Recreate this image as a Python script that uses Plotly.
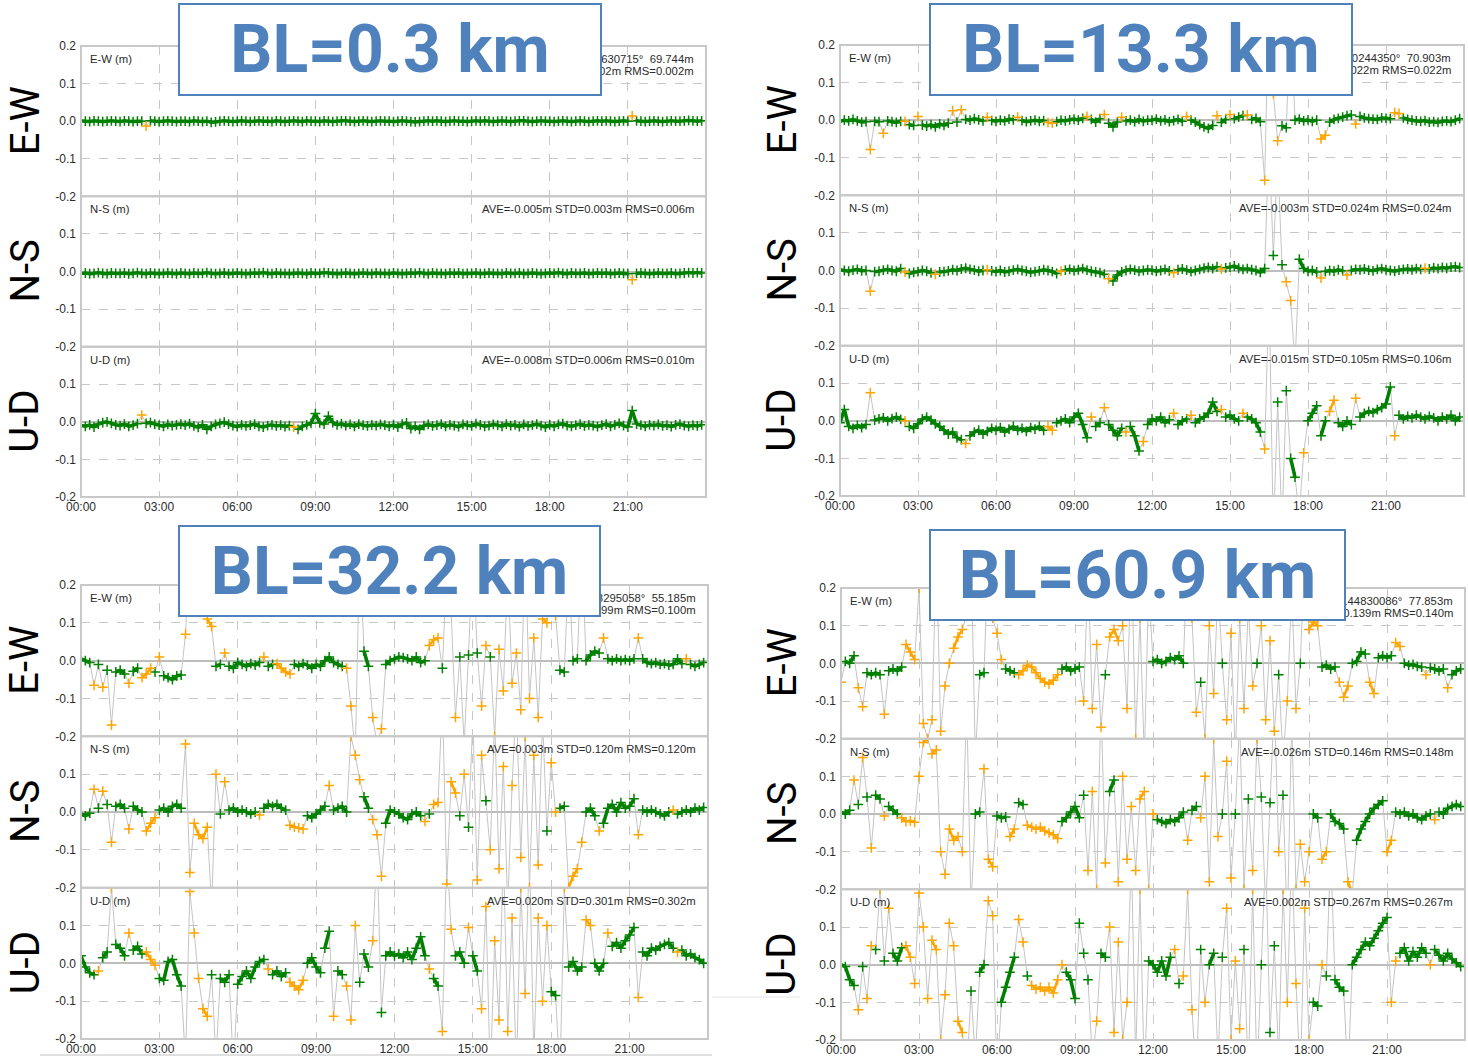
import plotly.graph_objects as go

# ---------------------------------------------------------------------------
# RTK baseline solutions, one epoch every 10 minutes over 24 h.
# Values are in millimetres, six rows of 24 epochs (4 hours per row).
# *_FLOAT lists, per row, the epoch indices that are float solutions.
# ---------------------------------------------------------------------------
STEP_MIN = 10
ROW_LEN = 24

TIME_TICKS = [0, 3, 6, 9, 12, 15, 18, 21]
TIME_LABELS = ["00:00", "03:00", "06:00", "09:00", "12:00", "15:00", "18:00", "21:00"]
Y_TICKS = [-0.2, -0.1, 0.0, 0.1, 0.2]
Y_LABELS = ["-0.2", "-0.1", "0.0", "0.1", "0.2"]
COMPONENTS = ["E-W", "N-S", "U-D"]
BASELINES = ["BL=0.3 km", "BL=13.3 km", "BL=32.2 km", "BL=60.9 km"]

# ---- BL = 0.3 km ----
BL03_EW = [
    [1, 0, -1, 1, 0, -1, 0, 1, 0, -1, 1, 0, -1, 0, 0, -13, 1, 0, -1, 0, 1, 0, -1, 0],
    [0, -1, 1, 0, -1, 0, -3, -2, 0, 1, 0, -1, 0, 1, 0, -1, 0, 1, 0, 0, -1, 1, 0, -1],
    [0, 1, 0, -1, 1, 0, 0, -1, 1, 0, -1, 0, 1, 1, 0, -1, 0, 1, 0, -1, 0, 1, 0, 0],
    [-1, 0, 1, 0, -1, -2, -1, 0, 1, 0, 1, 0, -1, 0, 1, 0, 0, -1, 0, 1, 0, 1, 0, -1],
    [0, 1, 0, -1, 0, 1, 1, 0, -1, 0, 1, 0, 0, -1, 0, 1, 0, -1, 0, 1, 0, -1, 0, 1],
    [0, 1, 0, -1, 0, 1, 0, 14, 1, 0, -1, 0, 1, 0, -1, 0, 1, 0, 0, 1, 2, 1, 0, 1],
]
BL03_EW_FLOAT = [[15], [], [], [], [], [7]]
BL03_NS = [
    [-5, -4, -6, -5, -3, -5, -6, -4, -5, -5, -4, -6, -5, -3, -5, -6, -4, -5, -6, -5, -4, -5, -6, -4],
    [-5, -6, -4, -5, -5, -3, -5, -6, -5, -4, -6, -5, -4, -5, -6, -5, -4, -5, -3, -5, -6, -4, -5, -5],
    [-6, -5, -4, -5, -6, -4, -5, -5, -3, -4, -5, -6, -5, -4, -5, -6, -5, -4, -5, -6, -4, -5, -5, -6],
    [-4, -5, -6, -5, -4, -5, -3, -5, -6, -4, -5, -5, -6, -4, -5, -4, -6, -5, -5, -4, -6, -5, -4, -5],
    [-5, -6, -4, -5, -5, -4, -6, -5, -4, -5, -6, -5, -4, -5, -3, -5, -6, -4, -5, -5, -4, -6, -5, -4],
    [-5, -4, -6, -5, -4, -5, -6, -22, -5, -4, -5, -6, -5, -4, -5, -5, -4, -6, -5, -4, -3, -4, -3, -4],
]
BL03_NS_FLOAT = [[], [], [], [], [], [7]]
BL03_UD = [
    [-10, -12, -8, -14, -6, -2, 0, -4, -8, -10, -6, -12, -9, -5, 18, -4, -2, -6, -9, -12, -7, -10, -8, -6],
    [-9, -5, -11, -15, -8, -20, -12, -7, -4, -1, -6, -10, -13, -8, -11, -9, -6, -12, -14, -10, -8, -11, -9, -13],
    [-10, -14, -20, -12, -8, -4, 22, -3, -6, 15, -2, -8, -5, -10, -7, -12, -6, -9, -11, -8, -10, -7, -9, -12],
    [-8, -14, -6, -3, -18, -12, -20, -10, -7, -11, -9, -6, -12, -8, -10, -13, -7, -9, -11, -5, -8, -12, -10, -7],
    [-9, -12, -6, -10, -8, -13, -7, -11, -9, -6, -10, -14, -8, -12, -7, -5, -10, -12, -9, -6, -11, -8, -10, -13],
    [-9, -6, -12, -8, -4, -10, -14, 30, -6, -9, -12, -8, -10, -7, -11, -9, -13, -8, -6, -10, -12, -9, -11, -8],
]
BL03_UD_FLOAT = [[14], [], [1], [], [], []]
BL03_POS = "N 35.42165208° E 139.60630715°  69.744m"
BL03_STATS = ["AVE=0.001m STD=0.002m RMS=0.002m",
              "AVE=-0.005m STD=0.003m RMS=0.006m",
              "AVE=-0.008m STD=0.006m RMS=0.010m"]

# ---- BL = 13.3 km ----
BL13_EW = [
    [-3, 0, -2, 2, -2, -5, -4, -78, -3, -4, -35, -2, -4, -6, -3, -3, -12, -14, 10, -13, -16, -12, -18, -10],
    [-14, -8, 25, -5, 28, 2, 0, 4, 1, -2, 8, -1, -3, 0, -2, 3, 1, 8, -1, -4, -2, 0, -3, -1],
    [-6, -8, -4, 0, -2, 1, 3, 0, 5, 10, 2, -5, 4, 15, -8, -18, -5, 8, -2, 0, -4, 2, -3, 0],
    [0, 3, -2, 1, -4, -1, 2, -3, 10, 0, -5, -12, -18, -22, -14, 12, -6, 2, 15, 4, 8, 12, 14, 2],
    [5, -4, -160, 350, 70, -55, -15, -20, 300, 0, 3, -2, 1, -3, 0, -50, -40, -5, 2, 5, 8, 12, 14, -10],
    [10, 6, 4, 3, 2, 6, 5, 4, 20, 18, 6, 2, 0, -2, -3, -1, -5, -4, -6, -3, -2, -4, 0, 4],
]
BL13_EW_FLOAT = [[7, 10, 15, 18], [2, 4, 10, 17], [0, 1, 9, 13, 17], [8, 15, 18, 22],
                 [2, 3, 4, 5, 8, 15, 16, 23], [8, 9]]
BL13_NS = [
    [2, 0, -2, 1, 3, -1, 0, -55, -3, -2, 1, 3, 0, -2, 5, -4, -8, -5, -3, 0, -2, -6, -10, -4],
    [-3, -1, 2, 0, 4, 6, 3, 1, -2, 0, 2, -1, -3, 0, -4, -2, 1, 3, 0, -2, -5, -3, -1, 2],
    [0, -3, -8, -2, 1, 3, 0, 2, 5, 1, -2, -4, -6, -10, -22, -28, -12, -4, 0, 3, 1, -2, 0, 2],
    [1, -2, 0, 3, -1, -6, 2, 4, 1, -3, 0, 3, 6, 8, 5, 10, 4, 7, 9, 12, 6, 3, 5, 2],
    [0, -5, 5, 350, 40, 300, 15, -30, -80, -250, 30, 5, -2, 0, -4, -20, -3, 0, -2, 2, -1, -12, 0, 3],
    [2, 4, 1, -1, 3, 5, 2, 0, -2, 1, 3, 4, 2, 5, 3, 6, 4, 7, 5, 8, 6, 9, 10, 8],
]
BL13_NS_FLOAT = [[7, 15, 22], [10], [3, 14], [5, 16], [3, 5, 7, 8, 9, 15, 21], [15]]
BL13_UD = [
    [-5, 30, -15, -20, -12, -18, -10, 75, 2, 5, 8, 0, 6, 10, 4, 0, -15, -20, -8, 5, 10, 2, -8, -15],
    [-25, -35, -30, -45, -50, -60, -40, -30, -25, -35, -28, -20, -25, -18, -30, -22, -15, -25, -20, -28, -18, -22, -15, -25],
    [-15, -25, -5, 0, 5, -5, 10, 20, -10, -45, 10, -15, -5, 35, -10, -25, -40, -20, -30, -15, -40, -80, -55, -10],
    [5, 0, 10, -5, 3, 20, -10, 0, 5, 15, -5, 5, 10, 20, 50, 25, 30, 10, 15, 5, 0, 20, 10, 5],
    [-5, -30, -75, 350, -300, 50, -280, 80, -100, -150, -250, -85, 0, 20, 40, -40, 0, 25, 55, -5, -15, 0, -10, 60],
    [10, 20, 25, 22, 30, 35, 45, 90, -40, 15, 5, 12, 8, 15, 10, 5, 12, 8, 0, 10, 5, 15, 0, 10],
]
BL13_UD_FLOAT = [[7, 15], [5], [0, 1, 10, 13, 18, 22], [5, 9, 16, 21],
                 [2, 3, 4, 6, 10, 11, 17, 18, 23], [8]]
BL13_POS = "N 35.58192644° E 139.50244350°  70.903m"
BL13_STATS = ["AVE=-0.002m STD=0.022m RMS=0.022m",
              "AVE=-0.003m STD=0.024m RMS=0.024m",
              "AVE=-0.015m STD=0.105m RMS=0.106m"]

# ---- BL = 32.2 km ----
BL32_EW = [
    [5, 0, -5, -65, -10, -70, -25, -170, -30, -25, -35, -60, -28, -20, -45, -35, -20, -30, 10, -40, -45, -50, -40, -38],
    [70, 300, 280, 350, 300, 110, 90, -15, -10, 20, -15, -20, -5, -10, -15, -8, -12, -5, 10, -15, -10, -8, -20, -30],
    [-35, -10, -15, -8, -12, -20, -10, -15, 0, 10, -5, -10, -15, -20, -120, -250, 300, 25, -15, -150, -220, -180, -10, 0],
    [5, 10, 8, 5, 0, 10, -5, 0, 40, 55, 60, -20, 250, 130, -150, 10, -220, 15, 300, 20, -120, 40, 10, -200],
    [30, -80, 250, -60, 20, -130, 300, -100, 60, -150, 110, 100, 300, 120, -25, -30, 250, 0, 5, 300, 0, 15, 25, 20],
    [60, 5, 0, 5, 0, 3, 0, 5, 60, 5, -5, -8, -5, -10, -8, -12, -10, 5, -8, 5, -10, -15, -10, -5],
]
BL32_EW_FLOAT = [[3, 5, 7, 11, 14, 15, 16, 18],
                 [0, 1, 2, 3, 4, 5, 6, 9, 18, 21, 22, 23],
                 [0, 13, 14, 15, 16, 19, 20, 21],
                 [8, 9, 10, 12, 13, 14, 16, 18, 20, 21, 23],
                 [0, 1, 2, 3, 4, 5, 6, 7, 8, 9, 10, 11, 12, 13, 16, 19],
                 [0, 8, 19]]
BL32_NS = [
    [-5, -10, -3, 60, 10, 55, 20, -80, 15, 20, 10, -45, 15, 5, 0, -50, -30, -15, 5, 10, 0, 15, 20, 10],
    [180, -160, -30, -60, -70, -40, -250, 100, -5, 80, 5, 10, 0, 5, 0, -5, 0, -8, 10, 20, 15, 20, 10, 5],
    [-35, -40, -42, -45, -10, -15, -5, 5, 15, 70, 5, 10, 15, 0, 200, 150, 85, 40, 10, -20, -60, -170, -30, 5],
    [0, -5, -15, -20, -5, 0, -10, -25, -5, 20, 25, 300, -190, 80, 50, -10, 100, -40, 250, -180, 150, 30, -100, 250],
    [-150, 120, -250, 70, 300, -120, 200, -200, 150, -140, 250, -50, 130, 0, 10, 15, -200, -170, -150, -80, 0, 10, -10, -50],
    [-30, 10, 20, 0, 25, 10, 15, 35, -60, 5, 0, 5, 0, -5, -10, 0, 5, -5, 0, 5, 0, 10, 5, 12],
]
BL32_NS_FLOAT = [[3, 5, 7, 11, 15, 16, 17],
                 [0, 1, 2, 3, 4, 5, 6, 7, 9, 17],
                 [0, 1, 2, 3, 9, 14, 15, 16, 19, 20, 21],
                 [7, 9, 10, 11, 12, 13, 14, 16, 18, 19, 20, 22, 23],
                 [0, 1, 2, 3, 4, 5, 6, 7, 8, 9, 10, 12, 13, 16, 17, 18, 19, 23],
                 [8, 16]]
BL32_UD = [
    [20, -10, -25, -30, -20, 15, 30, 200, 50, 40, 20, 80, 35, 45, 25, 30, 10, -5, -40, -45, 5, 10, -30, -60],
    [-260, 190, 80, -40, -120, -140, -30, -250, -40, -50, -30, -280, -55, -35, -20, -40, -10, 5, 10, -15, -30, -20, -35, -25],
    [-50, -60, -70, -45, 0, 15, -10, -25, 40, 85, -140, -20, -30, -60, -150, 100, -50, 25, -10, 60, 300, -130, 20, 30],
    [20, 25, 15, 30, 10, 40, 70, 20, -15, -40, -60, -180, 300, 90, 20, 30, 0, 95, 20, -20, -120, 150, -300, 60],
    [-150, 300, -180, 120, -300, 200, -80, 300, -250, 120, -100, 100, -75, -85, -300, 200, -10, 5, -20, -10, 115, 100, 0, -20],
    [0, 80, 45, 55, 40, 60, 75, 95, -90, 30, 20, 40, 35, 45, 50, 55, 40, 30, 35, 20, 25, 15, 10, 0],
]
BL32_UD_FLOAT = [[4, 7, 11, 15, 16, 17],
                 [0, 1, 2, 3, 4, 5, 7, 11, 19],
                 [0, 1, 2, 3, 10, 13, 14, 15, 19, 20],
                 [8, 11, 12, 13, 17, 20, 21, 22, 23],
                 [0, 1, 2, 3, 4, 5, 6, 7, 8, 9, 10, 11, 14, 15, 20, 21],
                 [1, 8, 17]]
BL32_POS = "N 35.31470912° E 139.88295058°  55.185m"
BL32_STATS = ["AVE=0.012m STD=0.099m RMS=0.100m",
              "AVE=0.003m STD=0.120m RMS=0.120m",
              "AVE=0.020m STD=0.301m RMS=0.302m"]

# ---- BL = 60.9 km ----
BL60_EW = [
    [-50, 5, 0, 20, -65, -115, -25, -30, -25, -30, -135, -20, -15, -20, -10, 50, 30, 10, 200, -160, -200, -150, 300, -180],
    [-60, 0, 40, 70, 90, 130, 300, -250, -30, -25, 300, 120, 80, 10, -15, -20, -25, -30, -20, -5, -10, -25, -40, -50],
    [-55, -45, -30, -15, -10, -20, -15, -10, -100, 250, -120, 50, -170, -30, 70, 90, 60, 100, -120, 300, -200, 120, -250, 200],
    [5, 10, 0, 5, 15, 10, 20, 0, 300, 120, -130, -50, -200, 100, -80, 200, 0, -150, 80, -250, 120, -120, 150, -60],
    [0, 100, -150, 60, -180, -30, -250, -100, 200, -120, 0, 300, 90, 110, 100, -10, -5, -15, -10, -50, -90, -60, 0, 5],
    [30, 25, -50, -80, 15, 20, 15, 20, 55, 45, 0, -5, -3, -8, -10, -30, -12, -15, -20, -15, -65, -30, -20, -15],
]
BL60_EW_FLOAT = [[0, 4, 5, 10, 15, 16, 17, 18, 19, 20, 21, 22, 23],
                 [0, 1, 2, 3, 4, 5, 6, 7, 10, 11, 12, 13, 17, 18, 19, 20, 21, 22, 23],
                 [0, 1, 2, 8, 9, 10, 11, 12, 14, 15, 16, 17, 18, 19, 20, 21, 22, 23],
                 [8, 9, 10, 12, 13, 14, 15, 17, 18, 19, 20, 21, 22, 23],
                 [1, 2, 3, 4, 6, 7, 8, 9, 11, 12, 13, 14, 19, 20, 21],
                 [2, 3, 8, 9, 15, 20]]
BL60_NS = [
    [5, 0, 10, 90, 25, 150, 45, -90, 50, 40, -5, 20, 10, 0, -10, -20, -18, -22, 100, 190, 200, 160, 170, -100],
    [-160, -40, -70, -60, -100, 300, -250, 0, 5, 120, -120, -140, -5, -10, -8, -60, -40, 30, 25, -30, -35, -40, -35, -45],
    [-50, -55, -65, -20, -10, 5, 20, -10, 50, -150, 60, -200, 300, -130, 60, 90, -180, 100, -120, 20, -150, 40, 60, -200],
    [0, -15, -20, -25, -15, -20, -10, 5, -70, 10, 20, -10, 100, -180, 200, -60, 0, 140, -170, 0, 250, -200, 40, -150],
    [200, 45, -250, 30, 300, -100, 50, -300, 250, -200, -80, -180, -100, 0, -10, -120, -100, 0, -20, -25, -40, -180, -210, -70],
    [-40, -20, 0, 15, 25, 35, -100, -70, 5, 0, 5, -5, 0, -10, -15, -5, 0, -15, 5, 0, 15, 20, 25, 20],
]
BL60_NS_FLOAT = [[3, 5, 7, 10, 14, 15, 16, 17, 18, 19, 20, 21, 22, 23],
                 [0, 1, 2, 3, 4, 5, 6, 9, 10, 11, 15, 16, 19, 20, 21, 22, 23],
                 [0, 1, 2, 9, 10, 11, 12, 13, 16, 17, 18, 19, 20, 21, 22, 23],
                 [0, 8, 11, 12, 13, 14, 15, 17, 18, 20, 21, 23],
                 [0, 2, 4, 5, 7, 8, 9, 10, 11, 12, 15, 16, 21, 22],
                 [6, 7, 17]]
BL60_UD = [
    [0, -5, -40, -55, -120, -5, -90, 50, 40, 200, 10, 150, 30, 10, 45, 50, 20, -50, 190, 100, -90, 65, 40, -200],
    [-80, 110, 50, -150, -180, -300, -70, -250, -20, 0, 170, 130, -300, -100, -60, -20, 20, 120, 60, -30, -55, -65, -60, -70],
    [-60, -75, -40, 0, -20, -40, -90, 110, 30, -40, -250, -150, 30, 20, 100, -180, 60, -200, -100, 300, -250, 200, -300, 10],
    [0, -20, 10, -30, 20, 40, -50, -30, 200, -120, -300, 40, -100, 0, 30, -250, 20, 150, -200, 10, -170, 40, -300, 200],
    [-300, 0, 300, -180, 50, -250, 200, -100, 300, -50, -300, 150, -200, -100, -110, 0, -30, 300, -40, -60, -70, -300, 0, 20],
    [40, 60, 50, 70, 90, 110, 125, -100, 10, 30, 45, 10, 35, 20, 45, 30, 0, 40, 25, 10, 30, 15, 5, -5],
]
BL60_UD_FLOAT = [[4, 6, 7, 9, 11, 15, 16, 17, 18, 19, 20, 21, 22, 23],
                 [0, 1, 2, 3, 4, 5, 7, 10, 11, 12, 17, 18, 20, 21, 22, 23],
                 [0, 1, 2, 3, 10, 11, 14, 15, 16, 17, 18, 19, 20, 21, 22],
                 [5, 7, 8, 9, 10, 12, 15, 17, 18, 19, 20, 22, 23],
                 [0, 2, 5, 6, 7, 8, 9, 10, 11, 12, 15, 17, 21],
                 [7, 8, 16]]
BL60_POS = "N 35.09521377° E 140.44830086°  77.853m"
BL60_STATS = ["AVE=-0.017m STD=0.139m RMS=0.140m",
              "AVE=-0.026m STD=0.146m RMS=0.148m",
              "AVE=0.002m STD=0.267m RMS=0.267m"]

PANELS = [
    ([BL03_EW, BL03_NS, BL03_UD], [BL03_EW_FLOAT, BL03_NS_FLOAT, BL03_UD_FLOAT], BL03_POS, BL03_STATS),
    ([BL13_EW, BL13_NS, BL13_UD], [BL13_EW_FLOAT, BL13_NS_FLOAT, BL13_UD_FLOAT], BL13_POS, BL13_STATS),
    ([BL32_EW, BL32_NS, BL32_UD], [BL32_EW_FLOAT, BL32_NS_FLOAT, BL32_UD_FLOAT], BL32_POS, BL32_STATS),
    ([BL60_EW, BL60_NS, BL60_UD], [BL60_EW_FLOAT, BL60_NS_FLOAT, BL60_UD_FLOAT], BL60_POS, BL60_STATS),
]

# ---------------------------------------------------------------------------
# Page geometry (pixels) and styling
# ---------------------------------------------------------------------------
W, H = 1468, 1057
PANEL_PX = [(81, 706, 46, 497), (840, 1464, 45, 496), (81, 708, 585, 1039), (841, 1465, 588, 1040)]
BIG_LABEL_X = [25, 782, 25, 782]
TITLE_BOX = [(179, 601, 4, 95), (930, 1352, 4, 95), (179, 600, 526, 616), (930, 1345, 530, 620)]
STATS_RIGHT = [696, 1453, 698, 1455]

FIX_COLOR = "#008000"
FLOAT_COLOR = "#FFA500"
LINK_COLOR = "#C4C4C4"
GRID_COLOR = "#C8C8C8"
FRAME_COLOR = "#C8C8C8"
TITLE_COLOR = "#4F81BD"
SMALL_FONT = dict(family="Liberation Sans", size=11.3, color="#2B2B2B")
TICK_FONT = dict(family="Liberation Sans", size=12, color="#2B2B2B")

# consecutive epochs of the same kind are drawn as one continuous trail
# when the step between them stays small
FIX_TRAIL_MAX = 0.05
FLOAT_TRAIL_MAX = 0.035


def fx(px):
    return px / W


def fy(py):
    return 1 - py / H


def trail(hours, values, mask, max_step):
    xs, ys = [], []
    for i in range(1, len(values)):
        if mask[i] and mask[i - 1] and abs(values[i] - values[i - 1]) <= max_step:
            xs += [hours[i - 1], hours[i], None]
            ys += [values[i - 1], values[i], None]
    return xs, ys


def note(text, x, y, xanchor, font=SMALL_FONT, **kw):
    return dict(text=text, xref="paper", yref="paper", x=fx(x), y=fy(y), xanchor=xanchor,
                yanchor="middle", showarrow=False, font=font, **kw)


fig = go.Figure()
layout_axes = {}
annotations = []
shapes = []

for p, (series, floats, pos_line, stats) in enumerate(PANELS):
    L, R, T, B = PANEL_PX[p]
    sub_h = (B - T) / 3
    for c in range(3):
        k = p * 3 + c + 1
        xs = "" if k == 1 else str(k)
        top = T + c * sub_h
        bot = top + sub_h

        for row in series[c]:
            assert len(row) == ROW_LEN
        values = [v / 1000.0 for row in series[c] for v in row]
        hours = [i * STEP_MIN / 60.0 for i in range(len(values))]
        float_idx = set(r * ROW_LEN + j for r, idx in enumerate(floats[c]) for j in idx)
        is_float = [i in float_idx for i in range(len(values))]
        is_fixed = [not f for f in is_float]

        common = dict(xaxis="x" + xs, yaxis="y" + xs, hoverinfo="skip")
        # epoch-to-epoch link
        fig.add_trace(go.Scatter(x=hours, y=values, mode="lines",
                                 line=dict(color=LINK_COLOR, width=1), **common))
        # trails of fixed and float epochs
        tx, ty = trail(hours, values, is_fixed, FIX_TRAIL_MAX)
        fig.add_trace(go.Scatter(x=tx, y=ty, mode="lines",
                                 line=dict(color=FIX_COLOR, width=3.5), **common))
        tx, ty = trail(hours, values, is_float, FLOAT_TRAIL_MAX)
        fig.add_trace(go.Scatter(x=tx, y=ty, mode="lines",
                                 line=dict(color=FLOAT_COLOR, width=2.5), **common))
        # fixed / float epochs
        for mask, color in ((is_fixed, FIX_COLOR), (is_float, FLOAT_COLOR)):
            px_ = [h for h, m in zip(hours, mask) if m]
            py_ = [v for v, m in zip(values, mask) if m]
            fig.add_trace(go.Scatter(x=px_, y=py_, mode="markers",
                                     marker=dict(symbol="cross-thin", size=7, color=color,
                                                 line=dict(color=color, width=1.5)),
                                     **common))

        layout_axes["xaxis" + xs] = dict(
            domain=[fx(L), fx(R)], anchor="y" + xs, range=[0, 24], automargin=False,
            tickmode="array", tickvals=TIME_TICKS, ticktext=TIME_LABELS,
            showticklabels=(c == 2), tickfont=TICK_FONT, ticks="", ticklabelstandoff=1,
            showgrid=True, gridcolor=GRID_COLOR, griddash="dash", gridwidth=1,
            zeroline=False, showline=False, fixedrange=True)
        tv = Y_TICKS if c == 0 else Y_TICKS[:-1]
        tt = Y_LABELS if c == 0 else Y_LABELS[:-1]
        layout_axes["yaxis" + xs] = dict(
            domain=[fy(bot), fy(top)], anchor="x" + xs, range=[-0.2, 0.2], automargin=False,
            tickmode="array", tickvals=tv, ticktext=tt, tickfont=TICK_FONT,
            ticks="", ticklabelstandoff=4,
            showgrid=True, gridcolor=GRID_COLOR, griddash="dash", gridwidth=1,
            zeroline=True, zerolinecolor="#BDBDBD", zerolinewidth=2,
            showline=False, fixedrange=True)

        shapes.append(dict(type="rect", xref="x" + xs + " domain", yref="y" + xs + " domain",
                           x0=0, x1=1, y0=0, y1=1, line=dict(color=FRAME_COLOR, width=2),
                           fillcolor="rgba(0,0,0,0)", layer="above"))

        # component name inside the plot
        annotations.append(note(f"{COMPONENTS[c]} (m)", L + 7, top + 13, "left"))
        # statistics (the horizontal component also carries the station position)
        if c == 0:
            annotations.append(note(pos_line, STATS_RIGHT[p], top + 13, "right"))
            annotations.append(note(stats[c], STATS_RIGHT[p], top + 25, "right"))
        else:
            annotations.append(note(stats[c], STATS_RIGHT[p], top + 13, "right"))
        # large component label
        annotations.append(note(COMPONENTS[c], BIG_LABEL_X[p], (top + bot) / 2, "center",
                                font=dict(family="Roboto", size=40, color="#000000"), textangle=-90))

# baseline length boxes, drawn last so they sit on top
for p, (x0, x1, y0, y1) in enumerate(TITLE_BOX):
    annotations.append(note(f"<b>{BASELINES[p]}</b>", (x0 + x1) / 2, (y0 + y1) / 2, "center",
                            font=dict(family="Roboto", size=66, color=TITLE_COLOR),
                            width=x1 - x0 - 2, height=y1 - y0 - 2,
                            bgcolor="#FFFFFF", bordercolor=TITLE_COLOR, borderwidth=2, borderpad=0))

# thin page rules under the lower-left panel
shapes.append(dict(type="line", xref="paper", yref="paper", x0=fx(40), x1=fx(712), y0=fy(1055), y1=fy(1055),
                   line=dict(color="#D6D6D6", width=1.5)))
shapes.append(dict(type="line", xref="paper", yref="paper", x0=fx(712), x1=fx(800), y0=fy(997), y1=fy(997),
                   line=dict(color="#E4E4E4", width=1)))

fig.update_layout(
    width=W, height=H, autosize=False,
    margin=dict(l=0, r=0, t=0, b=0, pad=0, autoexpand=False),
    paper_bgcolor="#FFFFFF", plot_bgcolor="#FFFFFF", showlegend=False,
    font=SMALL_FONT, annotations=annotations, shapes=shapes, **layout_axes)

# the page carries nothing but the figure
PAGE_RESET = ("document.documentElement.style.margin='0';document.body.style.margin='0';"
              "document.body.style.padding='0';document.documentElement.style.overflow='hidden';"
              "document.body.style.overflow='hidden';")

fig.write_html("out.html", config={"displayModeBar": False}, post_script=PAGE_RESET)
